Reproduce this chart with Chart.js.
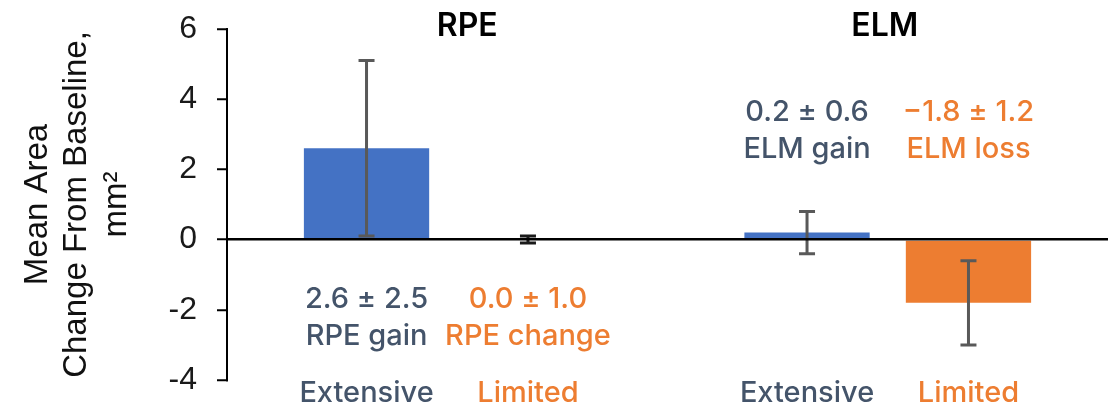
<!DOCTYPE html>
<html lang="en">
<head>
  <meta charset="UTF-8">
  <title>RPE / ELM mean area change</title>
  <script src="https://cdn.jsdelivr.net/npm/chart.js"></script>
  <style>
    body { margin: 0; background: #fff; }
    .wrap { width: 1119px; height: 409px; position: relative; }
  </style>
</head>
<body>
  <div class="wrap">
    <canvas id="areaChart"></canvas>
  </div>

  <script>
    // groups and values
    const groups = ['RPE', 'ELM'];
    const extensiveMean = [2.6, 0.2];
    const extensiveErr = [2.5, 0.6];
    const limitedMean = [0.0, -1.8];
    const limitedErr = [0.1, 1.2];   // drawn bar for limited RPE is tiny
    const extensiveNote = [['2.6 ± 2.5', 'RPE gain'], ['0.2 ± 0.6', 'ELM gain']];
    const limitedNote = [['0.0 ± 1.0', 'RPE change'], ['−1.8 ± 1.2', 'ELM loss']];
    const yTicks = [-4, -2, 0, 2, 4, 6];

    const SLATE = '#44546a';
    const ORANGE = '#ed7d31';

    // error bars, notes, group titles, bar labels
    const decorations = {
      id: 'decorations',
      afterDatasetsDraw(chart) {
        const { ctx } = chart;
        const y = chart.scales.y;
        const errs = [extensiveErr, limitedErr];
        ctx.save();
        ctx.lineWidth = 3;
        chart.data.datasets.forEach((ds, d) => {
          chart.getDatasetMeta(d).data.forEach((bar, i) => {
            const v = ds.data[i], e = errs[d][i];
            const top = y.getPixelForValue(v + e), bot = y.getPixelForValue(v - e);
            ctx.strokeStyle = e < 0.2 ? '#1a1a1a' : '#595959';
            ctx.beginPath();
            ctx.moveTo(bar.x, top); ctx.lineTo(bar.x, bot);
            ctx.moveTo(bar.x - 8, top); ctx.lineTo(bar.x + 8, top);
            ctx.moveTo(bar.x - 8, bot); ctx.lineTo(bar.x + 8, bot);
            ctx.stroke();
          });
        });
        ctx.restore();
      },
      afterDraw(chart) {
        const { ctx, chartArea } = chart;
        const x = chart.scales.x, y = chart.scales.y;
        const notes = [extensiveNote, limitedNote];
        const colors = [SLATE, ORANGE];
        const noteAt = [-1.71, 3.62];   // first line of note, in y units
        const titleShift = [20, -3];
        ctx.save();
        ctx.textAlign = 'center';
        ctx.textBaseline = 'middle';

        ctx.fillStyle = '#000';
        ctx.font = '600 32px Inter';
        groups.forEach((g, i) => {
          ctx.fillText(g, x.getPixelForValue(i) + titleShift[i], 26);
        });

        chart.data.datasets.forEach((ds, d) => {
          chart.getDatasetMeta(d).data.forEach((bar, i) => {
            ctx.fillStyle = colors[d];
            ctx.font = '500 29px Inter';
            const y0 = y.getPixelForValue(noteAt[i]);
            ctx.fillText(notes[d][i][0], bar.x, y0);
            ctx.fillText(notes[d][i][1], bar.x, y0 + 37);
            ctx.fillText(ds.label, bar.x, chartArea.bottom + 13);
          });
        });
        ctx.restore();
      }
    };

    new Chart(document.getElementById('areaChart'), {
      type: 'bar',
      data: {
        labels: groups,
        datasets: [
          { label: 'Extensive', data: extensiveMean, backgroundColor: '#4472c4' },
          { label: 'Limited', data: limitedMean, backgroundColor: ORANGE }
        ]
      },
      options: {
        responsive: true,
        maintainAspectRatio: false,
        animation: false,
        categoryPercentage: 0.733,
        barPercentage: 0.776,
        layout: { padding: { top: 29, bottom: 29, right: 11, left: 0 } },
        plugins: { legend: { display: false }, tooltip: { enabled: false } },
        scales: {
          x: { display: false },
          y: {
            min: -4, max: 6,
            afterBuildTicks: s => { s.ticks = yTicks.map(v => ({ value: v })); },
            afterFit: s => { s.width = 227; },
            border: { display: true, color: '#000', width: 2, z: 1 },
            grid: {
              z: 1,
              color: c => c.tick && c.tick.value === 0 ? '#000' : 'rgba(0,0,0,0)',
              lineWidth: 2.5,
              tickColor: '#000',
              tickWidth: 2,
              tickLength: 10
            },
            ticks: {
              padding: 20,
              color: '#1a1a1a',
              font: { family: 'Liberation Sans', size: 32, lineHeight: 0.5 }
            },
            title: {
              display: true,
              text: ['Mean Area', 'Change From Baseline,', 'mm²'],
              color: '#111',
              font: { family: 'Liberation Sans', size: 33, lineHeight: 1.2 },
              padding: { top: 18, bottom: 0 }
            }
          }
        }
      },
      plugins: [decorations]
    });
  </script>
</body>
</html>
